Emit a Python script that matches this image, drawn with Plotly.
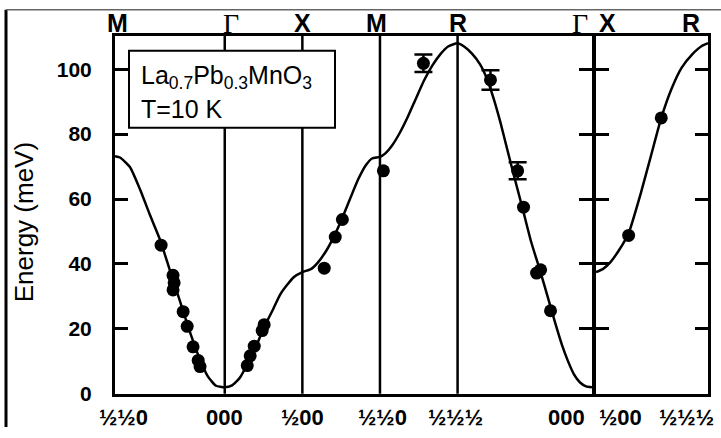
import plotly.graph_objects as go

W, H = 721, 438

# ---- symmetry path (distance along path in units of 2*pi/a) ----
seg_labels = ["M", "Γ", "X", "M", "R", "Γ"]
seg_hkl = ["½½0", "000", "½00", "½½0", "½½½", "000"]
seg_pos = [0.0, 0.7071, 1.2071, 1.7071, 2.2071, 3.0731]
p2_labels = ["X", "R"]
p2_hkl = ["½00", "½½½"]
p2_pos = [0.0, 0.7071]

# ---- theory curve, panel 1 ----
k1 = [0.000, 0.032, 0.097, 0.161, 0.226, 0.290, 0.354, 0.419, 0.483, 0.548, 0.599, 0.651, 0.707,
      0.754, 0.805, 0.857, 0.908, 0.960, 1.018, 1.063, 1.108, 1.153, 1.207,
      1.265, 1.308, 1.360, 1.411, 1.463, 1.514, 1.566, 1.617, 1.656, 1.707,
      1.740, 1.785, 1.836, 1.888, 1.939, 1.991, 2.043, 2.094, 2.146, 2.207,
      2.249, 2.300, 2.352, 2.397, 2.436, 2.481, 2.526, 2.577, 2.629, 2.680, 2.738, 2.790, 2.835,
      2.880, 2.919, 2.957, 2.996, 3.035, 3.073]
E1 = [73.2, 72.8, 69.8, 63.0, 55.0, 47.5, 38.0, 28.5, 19.0, 10.5, 5.3, 2.5, 2.0,
      2.6, 5.0, 9.5, 14.5, 20.5, 26.0, 30.5, 33.5, 36.0, 37.5,
      38.5, 40.5, 44.0, 48.5, 54.0, 60.0, 66.0, 70.5, 72.5, 73.0,
      74.0, 76.5, 80.5, 85.5, 91.0, 96.5, 101.0, 104.5, 107.0, 108.0,
      107.0, 104.8, 101.5, 97.0, 91.5, 84.0, 75.5, 66.0, 56.5, 47.0, 38.0, 29.5, 22.0,
      15.0, 10.0, 6.0, 3.5, 2.3, 2.0]

# ---- theory curve, panel 2 (X -> R) ----
k2 = [0.000, 0.045, 0.090, 0.142, 0.206, 0.284, 0.348, 0.412, 0.477, 0.541, 0.606, 0.670, 0.7071]
E2 = [37.5, 38.5, 40.5, 44.0, 49.5, 62.0, 73.5, 85.0, 94.0, 100.5, 104.5, 107.2, 108.0]

# ---- measured points ----
dk1 = [0.297, 0.374, 0.381, 0.374, 0.439, 0.465, 0.503, 0.536, 0.548,
       0.852, 0.871, 0.897, 0.948, 0.961,
       1.348, 1.419, 1.465, 1.729,
       2.632, 2.716, 2.742, 2.806]
dE1 = [45.8, 36.5, 34.2, 32.0, 25.3, 20.8, 14.5, 10.3, 8.4,
       8.7, 11.7, 14.7, 19.5, 21.3,
       38.7, 48.3, 53.7, 68.7,
       57.5, 37.2, 38.2, 25.6]
ek1 = [1.987, 2.419, 2.594]
eE1 = [101.8, 96.7, 68.7]
eErr1 = [2.7, 3.0, 2.6]
dk2 = [0.206, 0.412]
dE2 = [48.8, 85.0]

yticks = [0, 20, 40, 60, 80, 100]
y_range = [0, 110.2]

# ---- layout geometry (pixels) ----
x1_l, x1_r = 115, 592
x2_l, x2_r = 596, 708
y_top, y_bot = 37, 404

def fx(px):
    return px / W

def fy(py):
    return 1 - py / H

fig = go.Figure()
LW = 2.5
black = "black"
font = "Liberation Sans, Arial, sans-serif"

fig.add_trace(go.Scatter(x=k1, y=E1, mode="lines", line=dict(color=black, width=LW, shape="spline", smoothing=0.5),
                         xaxis="x", yaxis="y", showlegend=False, hoverinfo="skip"))
fig.add_trace(go.Scatter(x=dk1, y=dE1, mode="markers", marker=dict(color=black, size=13),
                         xaxis="x", yaxis="y", showlegend=False))
fig.add_trace(go.Scatter(x=ek1, y=eE1, mode="markers", marker=dict(color=black, size=13),
                         error_y=dict(type="data", array=eErr1, visible=True, color=black, thickness=2.5, width=9),
                         xaxis="x", yaxis="y", showlegend=False))
fig.add_trace(go.Scatter(x=k2, y=E2, mode="lines", line=dict(color=black, width=LW, shape="spline", smoothing=0.5),
                         xaxis="x2", yaxis="y2", showlegend=False, hoverinfo="skip"))
fig.add_trace(go.Scatter(x=dk2, y=dE2, mode="markers", marker=dict(color=black, size=13),
                         xaxis="x2", yaxis="y2", showlegend=False))

axis_common = dict(showline=True, linecolor=black, linewidth=3, mirror=True, showgrid=False, zeroline=False)

fig.update_layout(
    width=W, height=H,
    margin=dict(l=0, r=0, t=0, b=0),
    paper_bgcolor="white", plot_bgcolor="white",
    xaxis=dict(domain=[fx(x1_l), fx(x1_r)], range=[seg_pos[0], seg_pos[-1]], showticklabels=False,
               ticks="", anchor="y", **axis_common),
    yaxis=dict(domain=[fy(y_bot), fy(y_top)], range=y_range, tickvals=yticks, ticks="inside", ticklen=13,
               tickwidth=2.5, tickcolor=black, anchor="x", ticklabelstandoff=16,
               tickfont=dict(family=font, size=21, color=black, weight="bold"),
               showline=True, linecolor=black, linewidth=3, mirror="ticks", showgrid=False, zeroline=False),
    xaxis2=dict(domain=[fx(x2_l), fx(x2_r)], range=[p2_pos[0], p2_pos[-1]], showticklabels=False,
                ticks="", anchor="y2", **axis_common),
    yaxis2=dict(domain=[fy(y_bot), fy(y_top)], range=y_range, tickvals=yticks, ticks="inside", ticklen=13,
                tickwidth=2.5, tickcolor=black, anchor="x2", showticklabels=False,
                showline=True, linecolor=black, linewidth=3, mirror="ticks", showgrid=False, zeroline=False),
)

shapes = []
# interior symmetry lines panel 1
for p in seg_pos[1:-1]:
    shapes.append(dict(type="line", xref="x", yref="y domain", x0=p, x1=p, y0=0, y1=1,
                       line=dict(color=black, width=2.5)))
# legend box
shapes.append(dict(type="rect", xref="paper", yref="paper", x0=fx(129), x1=fx(335), y0=fy(131), y1=fy(52),
                   line=dict(color=black, width=2), fillcolor="white", layer="above"))
# outer frame pieces
shapes.append(dict(type="line", xref="paper", yref="paper", x0=fx(6), x1=fx(6), y0=0, y1=fy(10),
                   line=dict(color=black, width=3)))
shapes.append(dict(type="line", xref="paper", yref="paper", x0=fx(6), x1=1, y0=fy(10), y1=fy(10),
                   line=dict(color="#666666", width=1.5)))
fig.update_layout(shapes=shapes)

ann = []
top_y = fy(24)
bot_y = fy(428)
top_shift = [2, 6, 0, -3, 0, -12]
bot_shift = [8, 0, 0, 3, -2, -26]
for lab, hkl, p, ts, bs in zip(seg_labels, seg_hkl, seg_pos, top_shift, bot_shift):
    is_g = lab == "Γ"
    ann.append(dict(x=p, xref="x", y=top_y, yref="paper", text=lab, showarrow=False, xshift=ts,
                    xanchor="center", yanchor="middle",
                    font=dict(family="Liberation Serif, serif" if is_g else font, size=28 if is_g else 25,
                              color=black, weight="normal" if is_g else "bold")))
    ann.append(dict(x=p, xref="x", y=bot_y, yref="paper", text=hkl, showarrow=False, xshift=bs,
                    xanchor="center", yanchor="middle",
                    font=dict(family=font, size=22, color=black, weight="bold")))
p2_top_shift = [11, -17]
p2_bot_shift = [24, -22]
for lab, hkl, p, ts, bs in zip(p2_labels, p2_hkl, p2_pos, p2_top_shift, p2_bot_shift):
    ann.append(dict(x=p, xref="x2", y=top_y, yref="paper", text=lab, showarrow=False, xshift=ts,
                    xanchor="center", yanchor="middle",
                    font=dict(family=font, size=25, color=black, weight="bold")))
    ann.append(dict(x=p, xref="x2", y=bot_y, yref="paper", text=hkl, showarrow=False, xshift=bs,
                    xanchor="center", yanchor="middle",
                    font=dict(family=font, size=22, color=black, weight="bold")))

ann.append(dict(x=fx(24), y=fy(228), xref="paper", yref="paper", text="Energy (meV)", textangle=-90,
                xanchor="center", yanchor="middle",
                showarrow=False, font=dict(family=font, size=26, color=black)))
ann.append(dict(x=fx(139), y=fy(79), xref="paper", yref="paper", xanchor="left", yanchor="middle",
                text="La<sub>0.7</sub>Pb<sub>0.3</sub>MnO<sub>3</sub>", showarrow=False,
                font=dict(family=font, size=25, color=black)))
ann.append(dict(x=fx(139), y=fy(112), xref="paper", yref="paper", xanchor="left", yanchor="middle",
                text="T=10 K", showarrow=False, font=dict(family=font, size=25, color=black)))
fig.update_layout(annotations=ann)

fig.write_html("out.html")
